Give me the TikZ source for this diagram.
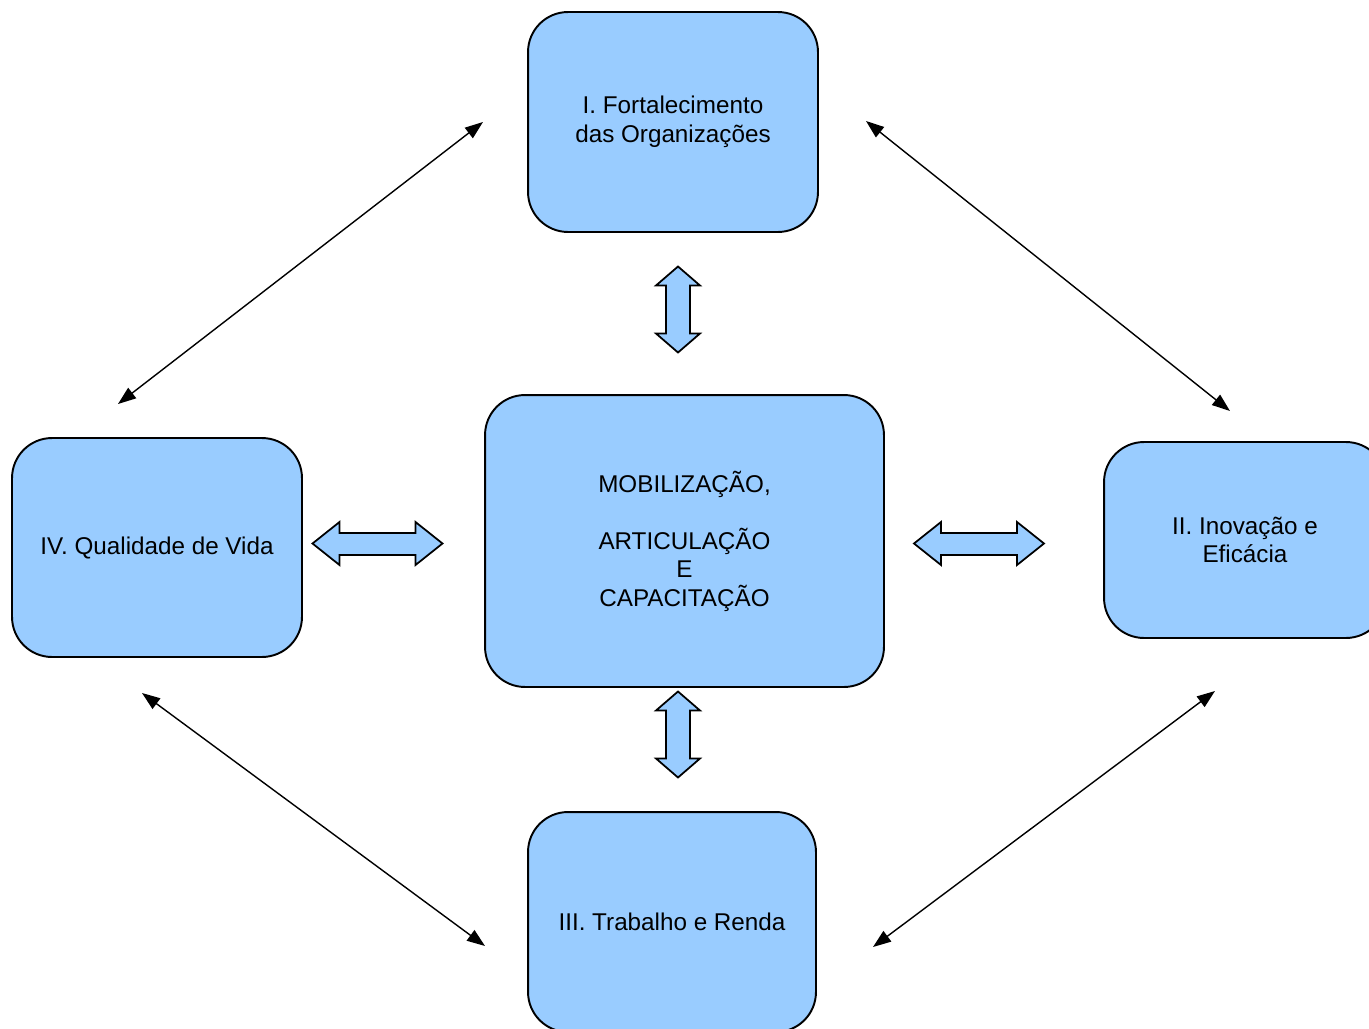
\documentclass[tikz,border=0pt]{standalone}
\usepackage{fontspec}
\setmainfont{Liberation Sans}
\usetikzlibrary{arrows.meta}
\definecolor{boxblue}{HTML}{99CCFF}
\tikzset{
  eixo/.style={draw=black,fill=boxblue,line width=1.1pt,rounded corners=0.8cm,
    inner sep=0pt,align=center,font=\fontsize{13.8}{16.2}\selectfont},
  liga/.style={<->,line width=0.8pt,>={Triangle[length=0.36cm,width=0.26cm]}},
  bloco/.style={draw=black,fill=boxblue,line width=1pt,line join=miter}
}
\begin{document}
\begin{tikzpicture}[x=0.02cm,y=-0.02cm]
\useasboundingbox (0,0) rectangle (1369,1028);
\clip (0,0) rectangle (1369,1028);
%boxes
\node[eixo,minimum width=7.98cm,minimum height=5.84cm] (centro) at (684.5,541)
  {MOBILIZAÇÃO,\\[16.2pt]ARTICULAÇÃO\\E\\CAPACITAÇÃO};
\node[eixo,minimum width=5.8cm,minimum height=4.4cm] (forta) at (673,122)
  {I. Fortalecimento\\das Organizações};
\node[eixo,minimum width=5.64cm,minimum height=3.92cm] (inova) at (1245,540)
  {II. Inovação e\\Eficácia};
\node[eixo,minimum width=5.76cm,minimum height=4.4cm] (trab) at (672,922)
  {III. Trabalho e Renda};
\node[eixo,minimum width=5.8cm,minimum height=4.38cm] (vida) at (157,547.5)
  {IV. Qualidade de Vida};
% thin arrows
\coordinate (fa) at (483,122);  \coordinate (vb) at (118,404);
\coordinate (fb) at (866,121);  \coordinate (ia) at (1230,411);
\coordinate (va) at (142,693);  \coordinate (ta) at (485,946);
\coordinate (ib) at (1215,691); \coordinate (tb) at (873,947);
\draw[liga] (fa) -- (vb);
\draw[liga] (fb) -- (ia);
\draw[liga] (va) -- (ta);
\draw[liga] (ib) -- (tb);
% block arrows, horizontal
\foreach \cx in {377.5,979}{
\draw[bloco] (\cx-65,543.5) -- (\cx-38,522) -- (\cx-38,533) -- (\cx+38,533)
  -- (\cx+38,522) -- (\cx+65,543.5) -- (\cx+38,565) -- (\cx+38,555)
  -- (\cx-38,555) -- (\cx-38,565) -- cycle;
}
% block arrows, vertical
\foreach \cy in {309.5,734.5}{
\draw[bloco] (678,\cy-43) -- (700,\cy-24) -- (690,\cy-24) -- (690,\cy+24)
  -- (700,\cy+24) -- (678,\cy+43) -- (656,\cy+24) -- (666,\cy+24)
  -- (666,\cy-24) -- (656,\cy-24) -- cycle;
}
\end{tikzpicture}
\end{document}
